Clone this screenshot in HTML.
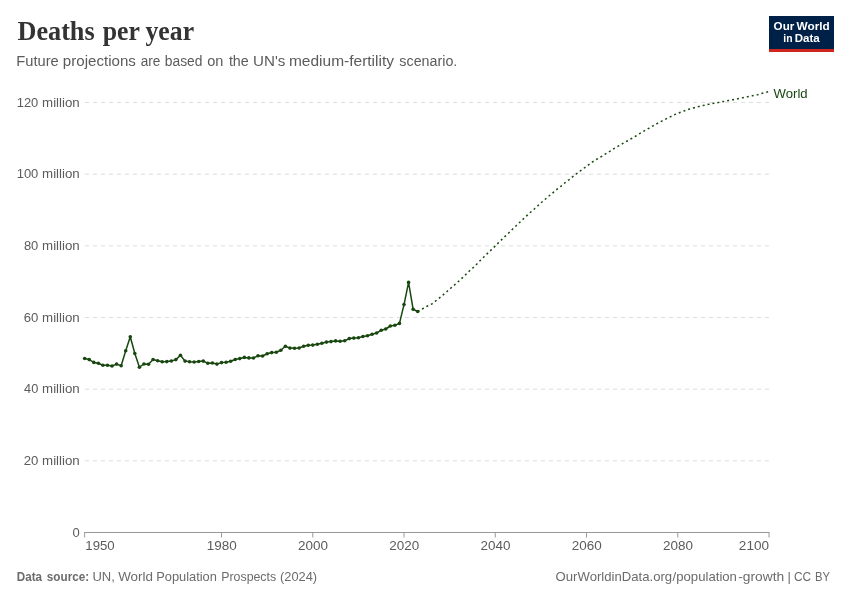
<!DOCTYPE html>
<html lang="en">
<head>
<meta charset="utf-8">
<title>Deaths per year</title>
<style>
html,body{margin:0;padding:0;background:#fff;}
svg{display:block;font-family:"Liberation Sans",sans-serif;}
</style>
</head>
<body>
<svg width="850" height="600" viewBox="0 0 850 600">
<rect width="850" height="600" fill="#fff"/>
<rect x="769" y="16" width="65" height="36" fill="#002147"/>
<rect x="769" y="49" width="65" height="3" fill="#ce261e"/>
<g>
<line x1="85" x2="769" y1="102.5" y2="102.5" stroke="#ddd" stroke-width="1" stroke-dasharray="4,4"/>
<line x1="85" x2="769" y1="174.17" y2="174.17" stroke="#ddd" stroke-width="1" stroke-dasharray="4,4"/>
<line x1="85" x2="769" y1="245.83" y2="245.83" stroke="#ddd" stroke-width="1" stroke-dasharray="4,4"/>
<line x1="85" x2="769" y1="317.5" y2="317.5" stroke="#ddd" stroke-width="1" stroke-dasharray="4,4"/>
<line x1="85" x2="769" y1="389.17" y2="389.17" stroke="#ddd" stroke-width="1" stroke-dasharray="4,4"/>
<line x1="85" x2="769" y1="460.83" y2="460.83" stroke="#ddd" stroke-width="1" stroke-dasharray="4,4"/>
</g>
<line x1="84.2" x2="769.5" y1="532.5" y2="532.5" stroke="#999" stroke-width="1"/>
<g>
<line x1="84.65" x2="84.65" y1="532.5" y2="537.5" stroke="#999" stroke-width="1"/>
<line x1="221.52" x2="221.52" y1="532.5" y2="537.5" stroke="#999" stroke-width="1"/>
<line x1="312.77" x2="312.77" y1="532.5" y2="537.5" stroke="#999" stroke-width="1"/>
<line x1="404.01" x2="404.01" y1="532.5" y2="537.5" stroke="#999" stroke-width="1"/>
<line x1="495.26" x2="495.26" y1="532.5" y2="537.5" stroke="#999" stroke-width="1"/>
<line x1="586.51" x2="586.51" y1="532.5" y2="537.5" stroke="#999" stroke-width="1"/>
<line x1="677.75" x2="677.75" y1="532.5" y2="537.5" stroke="#999" stroke-width="1"/>
<line x1="769.00" x2="769.00" y1="532.5" y2="537.5" stroke="#999" stroke-width="1"/>
</g>
<polyline fill="none" stroke="#18470F" stroke-width="1.5" stroke-dasharray="2,3" points="417.70,311.50 423.00,308.50 427.50,306.00 432.00,303.80 435.80,300.80 439.80,297.70 443.70,294.40 447.30,291.20 451.20,287.80 455.00,284.50 458.70,281.20 462.30,277.90 466.00,274.30 469.60,270.80 473.30,267.50 476.90,264.00 480.50,260.30 484.10,256.70 487.30,253.60 491.00,250.10 494.60,246.60 498.10,243.10 501.70,239.60 505.30,236.10 508.90,232.70 512.50,229.20 516.20,225.70 519.90,222.20 523.50,218.80 527.10,215.40 530.80,212.00 534.60,208.70 538.30,205.30 542.00,202.00 545.80,198.70 549.50,195.55 553.40,192.30 557.10,189.20 561.10,186.10 564.90,182.80 568.90,179.80 572.75,176.65 576.70,173.60 580.70,170.60 584.80,167.55 588.85,164.60 592.90,161.70 597.10,159.00 601.40,156.50 605.60,153.90 610.00,151.20 614.30,148.40 618.55,145.95 622.85,143.45 627.10,141.00 631.50,138.50 635.80,136.00 640.10,133.30 644.40,130.80 648.80,128.30 653.10,125.80 657.40,123.40 661.80,121.10 666.20,118.80 670.70,116.60 675.20,114.40 679.90,112.50 684.70,110.70 689.60,109.00 694.40,107.70 699.30,106.40 704.10,105.30 708.90,104.30 713.70,103.30 718.50,102.50 723.50,101.50 728.30,100.60 733.10,99.65 737.90,98.70 742.80,97.70 747.60,96.70 752.50,95.70 757.50,94.70 762.40,93.30 767.40,91.90 769.00,91.50"/>
<polyline fill="none" stroke="#18470F" stroke-width="1.5" stroke-linejoin="round" stroke-linecap="round" points="84.65,358.50 89.21,359.60 93.77,362.40 98.34,363.20 102.90,365.20 107.46,365.30 112.02,366.00 116.59,364.10 121.15,365.70 125.71,350.70 130.27,336.70 134.84,353.50 139.40,367.20 143.96,364.00 148.52,364.30 153.09,359.50 157.65,360.80 162.21,361.80 166.77,361.60 171.33,361.00 175.90,359.60 180.46,355.30 185.02,361.10 189.58,361.80 194.15,362.00 198.71,361.50 203.27,361.10 207.83,363.20 212.40,363.00 216.96,364.10 221.52,362.60 226.08,362.20 230.64,361.30 235.21,359.50 239.77,358.60 244.33,357.40 248.89,357.90 253.46,358.00 258.02,355.80 262.58,356.00 267.14,353.80 271.71,352.60 276.27,352.20 280.83,350.20 285.39,346.20 289.95,348.10 294.52,348.20 299.08,348.00 303.64,346.30 308.20,345.30 312.77,345.10 317.33,344.30 321.89,343.20 326.45,342.10 331.02,341.60 335.58,340.90 340.14,341.30 344.70,340.70 349.27,338.60 353.83,338.10 358.39,337.80 362.95,336.50 367.51,335.70 372.08,334.20 376.64,333.00 381.20,330.30 385.76,329.00 390.33,326.00 394.89,325.20 399.45,323.40 404.01,304.60 408.58,282.40 413.14,309.30 417.70,311.50"/>
<g fill="#18470F"><circle cx="84.65" cy="358.50" r="1.8"/><circle cx="89.21" cy="359.60" r="1.8"/><circle cx="93.77" cy="362.40" r="1.8"/><circle cx="98.34" cy="363.20" r="1.8"/><circle cx="102.90" cy="365.20" r="1.8"/><circle cx="107.46" cy="365.30" r="1.8"/><circle cx="112.02" cy="366.00" r="1.8"/><circle cx="116.59" cy="364.10" r="1.8"/><circle cx="121.15" cy="365.70" r="1.8"/><circle cx="125.71" cy="350.70" r="1.8"/><circle cx="130.27" cy="336.70" r="1.8"/><circle cx="134.84" cy="353.50" r="1.8"/><circle cx="139.40" cy="367.20" r="1.8"/><circle cx="143.96" cy="364.00" r="1.8"/><circle cx="148.52" cy="364.30" r="1.8"/><circle cx="153.09" cy="359.50" r="1.8"/><circle cx="157.65" cy="360.80" r="1.8"/><circle cx="162.21" cy="361.80" r="1.8"/><circle cx="166.77" cy="361.60" r="1.8"/><circle cx="171.33" cy="361.00" r="1.8"/><circle cx="175.90" cy="359.60" r="1.8"/><circle cx="180.46" cy="355.30" r="1.8"/><circle cx="185.02" cy="361.10" r="1.8"/><circle cx="189.58" cy="361.80" r="1.8"/><circle cx="194.15" cy="362.00" r="1.8"/><circle cx="198.71" cy="361.50" r="1.8"/><circle cx="203.27" cy="361.10" r="1.8"/><circle cx="207.83" cy="363.20" r="1.8"/><circle cx="212.40" cy="363.00" r="1.8"/><circle cx="216.96" cy="364.10" r="1.8"/><circle cx="221.52" cy="362.60" r="1.8"/><circle cx="226.08" cy="362.20" r="1.8"/><circle cx="230.64" cy="361.30" r="1.8"/><circle cx="235.21" cy="359.50" r="1.8"/><circle cx="239.77" cy="358.60" r="1.8"/><circle cx="244.33" cy="357.40" r="1.8"/><circle cx="248.89" cy="357.90" r="1.8"/><circle cx="253.46" cy="358.00" r="1.8"/><circle cx="258.02" cy="355.80" r="1.8"/><circle cx="262.58" cy="356.00" r="1.8"/><circle cx="267.14" cy="353.80" r="1.8"/><circle cx="271.71" cy="352.60" r="1.8"/><circle cx="276.27" cy="352.20" r="1.8"/><circle cx="280.83" cy="350.20" r="1.8"/><circle cx="285.39" cy="346.20" r="1.8"/><circle cx="289.95" cy="348.10" r="1.8"/><circle cx="294.52" cy="348.20" r="1.8"/><circle cx="299.08" cy="348.00" r="1.8"/><circle cx="303.64" cy="346.30" r="1.8"/><circle cx="308.20" cy="345.30" r="1.8"/><circle cx="312.77" cy="345.10" r="1.8"/><circle cx="317.33" cy="344.30" r="1.8"/><circle cx="321.89" cy="343.20" r="1.8"/><circle cx="326.45" cy="342.10" r="1.8"/><circle cx="331.02" cy="341.60" r="1.8"/><circle cx="335.58" cy="340.90" r="1.8"/><circle cx="340.14" cy="341.30" r="1.8"/><circle cx="344.70" cy="340.70" r="1.8"/><circle cx="349.27" cy="338.60" r="1.8"/><circle cx="353.83" cy="338.10" r="1.8"/><circle cx="358.39" cy="337.80" r="1.8"/><circle cx="362.95" cy="336.50" r="1.8"/><circle cx="367.51" cy="335.70" r="1.8"/><circle cx="372.08" cy="334.20" r="1.8"/><circle cx="376.64" cy="333.00" r="1.8"/><circle cx="381.20" cy="330.30" r="1.8"/><circle cx="385.76" cy="329.00" r="1.8"/><circle cx="390.33" cy="326.00" r="1.8"/><circle cx="394.89" cy="325.20" r="1.8"/><circle cx="399.45" cy="323.40" r="1.8"/><circle cx="404.01" cy="304.60" r="1.8"/><circle cx="408.58" cy="282.40" r="1.8"/><circle cx="413.14" cy="309.30" r="1.8"/><circle cx="417.70" cy="311.50" r="1.8"/></g>
<g>
<text x="17.44" y="40.30" font-family='"Liberation Serif",serif' font-weight="bold" font-size="27.5" fill="#333" textLength="77.23" lengthAdjust="spacingAndGlyphs">Deaths</text>
<text x="102.80" y="40.30" font-family='"Liberation Serif",serif' font-weight="bold" font-size="27.5" fill="#333" textLength="37.16" lengthAdjust="spacingAndGlyphs">per</text>
<text x="145.50" y="40.30" font-family='"Liberation Serif",serif' font-weight="bold" font-size="27.5" fill="#333" textLength="48.56" lengthAdjust="spacingAndGlyphs">year</text>
<text x="16.25" y="66.00" font-family='"Liberation Sans",sans-serif' font-weight="normal" font-size="14" fill="#5b5b5b" textLength="42.44" lengthAdjust="spacingAndGlyphs">Future</text>
<text x="62.86" y="66.00" font-family='"Liberation Sans",sans-serif' font-weight="normal" font-size="14" fill="#5b5b5b" textLength="73.02" lengthAdjust="spacingAndGlyphs">projections</text>
<text x="140.67" y="66.00" font-family='"Liberation Sans",sans-serif' font-weight="normal" font-size="14" fill="#5b5b5b" textLength="19.68" lengthAdjust="spacingAndGlyphs">are</text>
<text x="164.84" y="66.00" font-family='"Liberation Sans",sans-serif' font-weight="normal" font-size="14" fill="#5b5b5b" textLength="37.64" lengthAdjust="spacingAndGlyphs">based</text>
<text x="207.25" y="66.00" font-family='"Liberation Sans",sans-serif' font-weight="normal" font-size="14" fill="#5b5b5b" textLength="16.17" lengthAdjust="spacingAndGlyphs">on</text>
<text x="228.90" y="66.00" font-family='"Liberation Sans",sans-serif' font-weight="normal" font-size="14" fill="#5b5b5b" textLength="19.88" lengthAdjust="spacingAndGlyphs">the</text>
<text x="253.05" y="66.00" font-family='"Liberation Sans",sans-serif' font-weight="normal" font-size="14" fill="#5b5b5b" textLength="32.32" lengthAdjust="spacingAndGlyphs">UN's</text>
<text x="288.93" y="66.00" font-family='"Liberation Sans",sans-serif' font-weight="normal" font-size="14" fill="#5b5b5b" textLength="105.07" lengthAdjust="spacingAndGlyphs">medium-fertility</text>
<text x="399.38" y="66.00" font-family='"Liberation Sans",sans-serif' font-weight="normal" font-size="14" fill="#5b5b5b" textLength="57.91" lengthAdjust="spacingAndGlyphs">scenario.</text>
<text x="16.69" y="106.80" font-family='"Liberation Sans",sans-serif' font-weight="normal" font-size="13" fill="#5b5b5b" textLength="21.63" lengthAdjust="spacingAndGlyphs">120</text>
<text x="42.07" y="106.80" font-family='"Liberation Sans",sans-serif' font-weight="normal" font-size="13" fill="#5b5b5b" textLength="37.68" lengthAdjust="spacingAndGlyphs">million</text>
<text x="16.69" y="178.47" font-family='"Liberation Sans",sans-serif' font-weight="normal" font-size="13" fill="#5b5b5b" textLength="21.63" lengthAdjust="spacingAndGlyphs">100</text>
<text x="42.07" y="178.47" font-family='"Liberation Sans",sans-serif' font-weight="normal" font-size="13" fill="#5b5b5b" textLength="37.68" lengthAdjust="spacingAndGlyphs">million</text>
<text x="23.89" y="250.13" font-family='"Liberation Sans",sans-serif' font-weight="normal" font-size="13" fill="#5b5b5b" textLength="14.43" lengthAdjust="spacingAndGlyphs">80</text>
<text x="42.07" y="250.13" font-family='"Liberation Sans",sans-serif' font-weight="normal" font-size="13" fill="#5b5b5b" textLength="37.68" lengthAdjust="spacingAndGlyphs">million</text>
<text x="23.68" y="321.80" font-family='"Liberation Sans",sans-serif' font-weight="normal" font-size="13" fill="#5b5b5b" textLength="14.65" lengthAdjust="spacingAndGlyphs">60</text>
<text x="42.07" y="321.80" font-family='"Liberation Sans",sans-serif' font-weight="normal" font-size="13" fill="#5b5b5b" textLength="37.68" lengthAdjust="spacingAndGlyphs">million</text>
<text x="24.10" y="393.47" font-family='"Liberation Sans",sans-serif' font-weight="normal" font-size="13" fill="#5b5b5b" textLength="14.22" lengthAdjust="spacingAndGlyphs">40</text>
<text x="42.07" y="393.47" font-family='"Liberation Sans",sans-serif' font-weight="normal" font-size="13" fill="#5b5b5b" textLength="37.68" lengthAdjust="spacingAndGlyphs">million</text>
<text x="23.68" y="465.13" font-family='"Liberation Sans",sans-serif' font-weight="normal" font-size="13" fill="#5b5b5b" textLength="14.65" lengthAdjust="spacingAndGlyphs">20</text>
<text x="42.07" y="465.13" font-family='"Liberation Sans",sans-serif' font-weight="normal" font-size="13" fill="#5b5b5b" textLength="37.68" lengthAdjust="spacingAndGlyphs">million</text>
<text x="72.39" y="536.80" font-family='"Liberation Sans",sans-serif' font-weight="normal" font-size="13" fill="#5b5b5b" textLength="7.23" lengthAdjust="spacingAndGlyphs">0</text>
<text x="85.27" y="550.40" font-family='"Liberation Sans",sans-serif' font-weight="normal" font-size="13" fill="#5b5b5b" textLength="29.46" lengthAdjust="spacingAndGlyphs">1950</text>
<text x="206.76" y="550.40" font-family='"Liberation Sans",sans-serif' font-weight="normal" font-size="13" fill="#5b5b5b" textLength="29.98" lengthAdjust="spacingAndGlyphs">1980</text>
<text x="297.99" y="550.40" font-family='"Liberation Sans",sans-serif' font-weight="normal" font-size="13" fill="#5b5b5b" textLength="29.97" lengthAdjust="spacingAndGlyphs">2000</text>
<text x="389.23" y="550.40" font-family='"Liberation Sans",sans-serif' font-weight="normal" font-size="13" fill="#5b5b5b" textLength="29.97" lengthAdjust="spacingAndGlyphs">2020</text>
<text x="480.48" y="550.40" font-family='"Liberation Sans",sans-serif' font-weight="normal" font-size="13" fill="#5b5b5b" textLength="29.97" lengthAdjust="spacingAndGlyphs">2040</text>
<text x="571.73" y="550.40" font-family='"Liberation Sans",sans-serif' font-weight="normal" font-size="13" fill="#5b5b5b" textLength="29.97" lengthAdjust="spacingAndGlyphs">2060</text>
<text x="662.97" y="550.40" font-family='"Liberation Sans",sans-serif' font-weight="normal" font-size="13" fill="#5b5b5b" textLength="29.97" lengthAdjust="spacingAndGlyphs">2080</text>
<text x="738.86" y="550.40" font-family='"Liberation Sans",sans-serif' font-weight="normal" font-size="13" fill="#5b5b5b" textLength="30.17" lengthAdjust="spacingAndGlyphs">2100</text>
<text x="773.60" y="97.60" font-family='"Liberation Sans",sans-serif' font-weight="normal" font-size="12.3" fill="#18470F" textLength="34.04" lengthAdjust="spacingAndGlyphs">World</text>
<text x="773.64" y="30.00" font-family='"Liberation Sans",sans-serif' font-weight="bold" font-size="11.5" fill="#fff" textLength="20.63" lengthAdjust="spacingAndGlyphs">Our</text>
<text x="796.60" y="30.00" font-family='"Liberation Sans",sans-serif' font-weight="bold" font-size="11.5" fill="#fff" textLength="33.15" lengthAdjust="spacingAndGlyphs">World</text>
<text x="783.25" y="42.00" font-family='"Liberation Sans",sans-serif' font-weight="bold" font-size="11.5" fill="#fff" textLength="9.25" lengthAdjust="spacingAndGlyphs">in</text>
<text x="794.68" y="42.00" font-family='"Liberation Sans",sans-serif' font-weight="bold" font-size="11.5" fill="#fff" textLength="24.95" lengthAdjust="spacingAndGlyphs">Data</text>
<text x="16.87" y="580.60" font-family='"Liberation Sans",sans-serif' font-weight="bold" font-size="13" fill="#6b6b6b" textLength="25.25" lengthAdjust="spacingAndGlyphs">Data</text>
<text x="46.83" y="580.60" font-family='"Liberation Sans",sans-serif' font-weight="bold" font-size="13" fill="#6b6b6b" textLength="42.34" lengthAdjust="spacingAndGlyphs">source:</text>
<text x="92.39" y="580.60" font-family='"Liberation Sans",sans-serif' font-weight="normal" font-size="13" fill="#6b6b6b" textLength="22.38" lengthAdjust="spacingAndGlyphs">UN,</text>
<text x="118.20" y="580.60" font-family='"Liberation Sans",sans-serif' font-weight="normal" font-size="13" fill="#6b6b6b" textLength="34.75" lengthAdjust="spacingAndGlyphs">World</text>
<text x="156.20" y="580.60" font-family='"Liberation Sans",sans-serif' font-weight="normal" font-size="13" fill="#6b6b6b" textLength="60.73" lengthAdjust="spacingAndGlyphs">Population</text>
<text x="221.23" y="580.60" font-family='"Liberation Sans",sans-serif' font-weight="normal" font-size="13" fill="#6b6b6b" textLength="54.95" lengthAdjust="spacingAndGlyphs">Prospects</text>
<text x="280.00" y="580.60" font-family='"Liberation Sans",sans-serif' font-weight="normal" font-size="13" fill="#6b6b6b" textLength="37.06" lengthAdjust="spacingAndGlyphs">(2024)</text>
<text x="555.58" y="580.60" font-family='"Liberation Sans",sans-serif' font-weight="normal" font-size="13" fill="#6b6b6b" textLength="116.55" lengthAdjust="spacingAndGlyphs">OurWorldinData.org</text>
<text x="672.60" y="580.60" font-family='"Liberation Sans",sans-serif' font-weight="normal" font-size="13" fill="#6b6b6b" textLength="64.34" lengthAdjust="spacingAndGlyphs">/population</text>
<text x="738.17" y="580.60" font-family='"Liberation Sans",sans-serif' font-weight="normal" font-size="13" fill="#6b6b6b" textLength="46.01" lengthAdjust="spacingAndGlyphs">-growth</text>
<text x="787.38" y="580.60" font-family='"Liberation Sans",sans-serif' font-weight="normal" font-size="13" fill="#6b6b6b" textLength="3.38" lengthAdjust="spacingAndGlyphs">|</text>
<text x="794.04" y="580.60" font-family='"Liberation Sans",sans-serif' font-weight="normal" font-size="13" fill="#6b6b6b" textLength="17.17" lengthAdjust="spacingAndGlyphs">CC</text>
<text x="814.92" y="580.60" font-family='"Liberation Sans",sans-serif' font-weight="normal" font-size="13" fill="#6b6b6b" textLength="15.00" lengthAdjust="spacingAndGlyphs">BY</text>
</g>
</svg>
</body>
</html>
